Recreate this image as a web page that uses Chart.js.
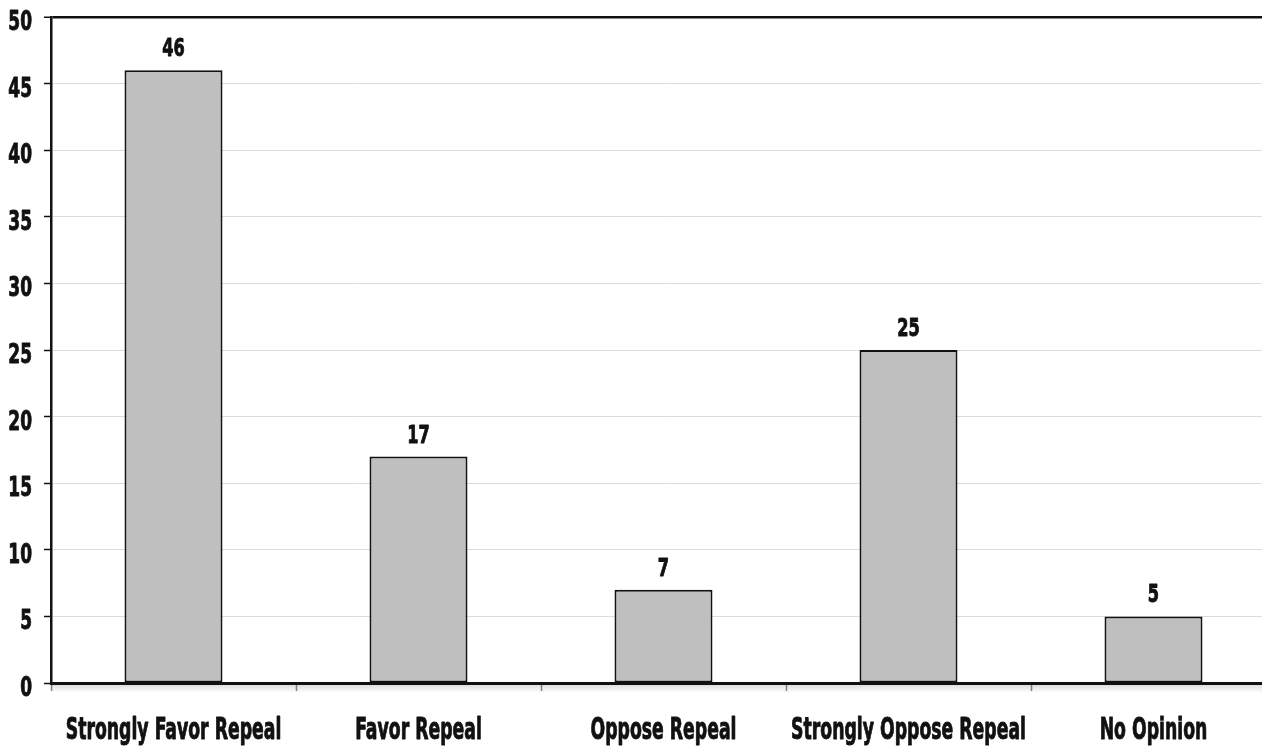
<!DOCTYPE html>
<html>
<head>
<meta charset="utf-8">
<script src="https://cdn.jsdelivr.net/npm/chart.js@4/dist/chart.umd.min.js"></script>
<style>
  html, body { margin: 0; padding: 0; background: #fff; overflow: hidden; }
  #wrap { width: 1280px; height: 746px; }
</style>
</head>
<body>
<div id="wrap"><canvas id="chart"></canvas></div>
<script>
// Categorías y valores
const CATEGORIES = [
  "Strongly Favor Repeal",
  "Favor Repeal",
  "Oppose Repeal",
  "Strongly Oppose Repeal",
  "No Opinion",
];
const VALUES = [46, 17, 7, 25, 5];
const Y_MAX = 50;
const Y_STEP = 5;

const FONT = "'DejaVu Sans Condensed', 'DejaVu Sans', sans-serif";

// Texto estrecho: la fuente original es muy condensada y gruesa
function textoEstrecho(ctx, text, x, y, align, size, sx) {
  ctx.save();
  ctx.translate(x, y);
  ctx.scale(sx, 1);
  ctx.font = "bold " + size + "px " + FONT;
  ctx.fillStyle = "#111";
  ctx.strokeStyle = "#111";
  ctx.lineWidth = 0.9;
  ctx.lineJoin = "round";
  ctx.textAlign = align;
  ctx.textBaseline = "alphabetic";
  ctx.fillText(text, 0, 0);
  ctx.strokeText(text, 0, 0);
  ctx.restore();
}

// Etiquetas de ejes, valores sobre barras y sombra bajo el eje X
const etiquetas = {
  id: "etiquetas",
  beforeDatasetsDraw(chart) {
    const ctx = chart.ctx;
    const area = chart.chartArea;
    const grad = ctx.createLinearGradient(0, area.bottom + 1, 0, area.bottom + 10);
    grad.addColorStop(0, "rgba(0,0,0,0.14)");
    grad.addColorStop(1, "rgba(0,0,0,0)");
    ctx.save();
    ctx.fillStyle = grad;
    ctx.fillRect(area.left, area.bottom + 1, area.right - area.left, 9);
    ctx.restore();
  },
  afterDraw(chart) {
    const ctx = chart.ctx;
    const x = chart.scales.x;
    const y = chart.scales.y;
    // eje Y
    y.ticks.forEach((t, i) => {
      const py = y.getPixelForTick(i);
      textoEstrecho(ctx, String(t.value), 32, py + 13, "right", 27, 0.7);
    });
    // eje X
    CATEGORIES.forEach((c, i) => {
      textoEstrecho(ctx, c, x.getPixelForTick(i), 739, "center", 30, 0.64);
    });
    // valores
    const meta = chart.getDatasetMeta(0);
    meta.data.forEach((bar, i) => {
      textoEstrecho(ctx, String(VALUES[i]), bar.x, bar.y - 14, "center", 25, 0.72);
    });
  },
};

const ctx = document.getElementById("chart").getContext("2d");
new Chart(ctx, {
  type: "bar",
  data: {
    labels: CATEGORIES,
    datasets: [
      {
        data: VALUES,
        backgroundColor: "#bfbfbf",
        borderColor: "#111",
        borderWidth: 2,
        borderSkipped: false,
        barPercentage: 0.4,
        categoryPercentage: 1,
      },
    ],
  },
  options: {
    responsive: true,
    maintainAspectRatio: false,
    animation: false,
    layout: { padding: { top: 17, right: 4, left: 0, bottom: 0 } },
    plugins: { legend: { display: false }, tooltip: { enabled: false } },
    scales: {
      x: {
        offset: true,
        grid: {
          display: true,
          drawOnChartArea: false,
          offset: true,
          tickLength: 8,
          tickColor: "#8a8a8a",
          tickWidth: 1.5,
        },
        border: { display: true, color: "#111", width: 3, z: 1 },
        ticks: { display: false, autoSkip: false },
        afterFit(scale) {
          scale.height = 63;
        },
      },
      y: {
        min: 0,
        max: Y_MAX,
        ticks: { display: false, stepSize: Y_STEP },
        grid: {
          color: (c) => (c.tick && c.tick.value === Y_MAX ? "#111" : "#dcdcdc"),
          lineWidth: (c) => (c.tick && c.tick.value === Y_MAX ? 2.5 : 1),
          tickLength: 7,
          tickColor: "#111",
          tickWidth: 1.5,
        },
        border: { display: true, color: "#111", width: 2.5 },
        afterFit(scale) {
          scale.width = 51;
        },
      },
    },
  },
  plugins: [etiquetas],
});
</script>
</body>
</html>
